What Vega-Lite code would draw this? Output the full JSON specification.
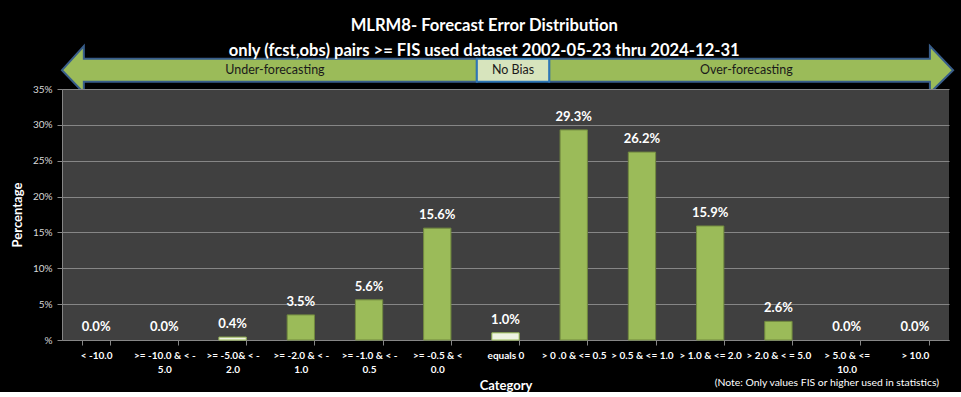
{
  "$schema": "https://vega.github.io/schema/vega-lite/v6.json",
  "background": "black",
  "padding": {"left": 11, "top": 18, "right": 10, "bottom": 0},
  "bounds": "flush",
  "title": {
    "text": ["MLRM8-  Forecast Error Distribution", "only (fcst,obs) pairs >= FIS used dataset 2002-05-23  thru 2024-12-31"],
    "color": "white", "font": "Lato", "fontSize": 16.6, "fontWeight": "bold",
    "lineHeight": 25, "anchor": "middle", "frame": "bounds", "offset": -18
  },
  "config": {"view": {"stroke": null}, "font": "Lato"},
  "spacing": 0,
  "datasets": {
    "arrows": [
      {"arrow": "left", "i": 1, "x": 0.0, "y": 4.85},
      {"arrow": "left", "i": 2, "x": 0.32, "y": 10},
      {"arrow": "left", "i": 3, "x": 0.32, "y": 7.3},
      {"arrow": "left", "i": 4, "x": 6.08, "y": 7.3},
      {"arrow": "left", "i": 5, "x": 6.08, "y": 2.4},
      {"arrow": "left", "i": 6, "x": 0.32, "y": 2.4},
      {"arrow": "left", "i": 7, "x": 0.32, "y": 0},
      {"arrow": "right", "i": 1, "x": 7.14, "y": 7.3},
      {"arrow": "right", "i": 2, "x": 12.72, "y": 7.3},
      {"arrow": "right", "i": 3, "x": 12.72, "y": 10},
      {"arrow": "right", "i": 4, "x": 13.06, "y": 4.85},
      {"arrow": "right", "i": 5, "x": 12.72, "y": 0},
      {"arrow": "right", "i": 6, "x": 12.72, "y": 2.4},
      {"arrow": "right", "i": 7, "x": 7.14, "y": 2.4}
    ],
    "bars": [
      {"category": "< -10.0", "pct": 0.0},
      {"category": ">= -10.0 & < -\n5.0", "pct": 0.0},
      {"category": ">= -5.0& < -\n2.0", "pct": 0.004},
      {"category": ">= -2.0 & < -\n1.0", "pct": 0.035},
      {"category": ">= -1.0 & < -\n0.5", "pct": 0.056},
      {"category": ">= -0.5 & <\n0.0", "pct": 0.156},
      {"category": "equals 0", "pct": 0.010},
      {"category": "> 0 .0 & <= 0.5", "pct": 0.293},
      {"category": "> 0.5 & <= 1.0", "pct": 0.262},
      {"category": "> 1.0 & <= 2.0", "pct": 0.159},
      {"category": "> 2.0 & < = 5.0", "pct": 0.026},
      {"category": "> 5.0 & <=\n10.0", "pct": 0.0},
      {"category": "> 10.0", "pct": 0.0}
    ]
  },
  "vconcat": [
    {
      "width": 887,
      "height": 43,
      "layer": [
        {
          "data": {"name": "arrows"},
          "mark": {"type": "line", "interpolate": "linear-closed", "fill": "#9BBB59", "stroke": "#385D8A", "strokeWidth": 2, "clip": false},
          "encoding": {
            "x": {"field": "x", "type": "quantitative", "scale": {"domain": [0, 13], "nice": false, "zero": false}, "axis": null},
            "y": {"field": "y", "type": "quantitative", "scale": {"domain": [0.85, 10], "nice": false, "zero": false}, "axis": null},
            "detail": {"field": "arrow"},
            "order": {"field": "i"}
          }
        },
        {
          "data": {"values": [{"x": 6.08, "x2": 7.14, "y": 2.4, "y2": 7.3}]},
          "mark": {"type": "rect", "fill": "#D7E4BD", "stroke": "#2E75B6", "strokeWidth": 2},
          "encoding": {
            "x": {"field": "x", "type": "quantitative"},
            "x2": {"field": "x2"},
            "y": {"field": "y", "type": "quantitative"},
            "y2": {"field": "y2"}
          }
        },
        {
          "data": {"values": [
            {"label": "Under-forecasting", "x": 3.12, "y": 4.85},
            {"label": "No  Bias", "x": 6.61, "y": 4.85},
            {"label": "Over-forecasting", "x": 10.03, "y": 4.85}
          ]},
          "mark": {"type": "text", "fontSize": 12.5, "color": "#1a1a1a", "baseline": "middle", "align": "center"},
          "encoding": {
            "x": {"field": "x", "type": "quantitative"},
            "y": {"field": "y", "type": "quantitative"},
            "text": {"field": "label"}
          }
        }
      ]
    },
    {
      "width": 887,
      "height": 251,
      "view": {"fill": "#404040", "stroke": null},
      "data": {"name": "bars"},
      "title": {"text": "(Note: Only values FIS or higher used in statistics)", "orient": "bottom", "anchor": "end", "fontSize": 10.4, "fontWeight": "normal", "color": "white", "offset": -14, "dx": -10},
      "encoding": {
        "x": {
          "field": "category", "type": "nominal", "sort": null,
          "scale": {"paddingInner": 0.6, "paddingOuter": 0.3},
          "axis": {
            "title": "Category", "titleColor": "white", "titleFontSize": 13, "titleFontWeight": "bold", "titlePadding": 5,
            "labelAngle": 0, "labelColor": "white", "labelFontSize": 10, "labelFontWeight": "bold",
            "labelExpr": "split(datum.label, '\\n')", "labelLineHeight": 14, "labelPadding": 5, "labelLimit": 0,
            "domainColor": "#868686", "tickColor": "#868686", "tickBand": "extent", "tickSize": 5
          }
        },
        "y": {
          "field": "pct", "type": "quantitative",
          "scale": {"domain": [0, 0.35], "nice": false},
          "axis": {
            "values": [0, 0.05, 0.1, 0.15, 0.2, 0.25, 0.3, 0.35],
            "labelExpr": "datum.value == 0 ? '%' : format(datum.value, '.0%')",
            "title": "Percentage", "titleColor": "white", "titleFontSize": 13, "titleFontWeight": "bold", "titlePadding": 8,
            "labelColor": "#d9d9d9", "labelFontSize": 10, "labelPadding": 5,
            "gridColor": "#868686", "domainColor": "#868686", "tickColor": "#868686", "tickSize": 5
          }
        }
      },
      "layer": [
        {
          "mark": {"type": "bar", "strokeWidth": 1},
          "encoding": {
            "fill": {"condition": {"test": "datum.pct < 0.02", "value": "#EEF3E2"}, "value": "#9BBB59"},
            "stroke": {"condition": {"test": "datum.pct < 0.02", "value": "#9BBB59"}, "value": "#71893F"},
            "opacity": {"condition": {"test": "datum.pct == 0", "value": 0}, "value": 1}
          }
        },
        {
          "mark": {"type": "text", "baseline": "bottom", "dy": -6, "color": "white", "fontSize": 13, "fontWeight": "bold"},
          "encoding": {
            "text": {"field": "pct", "type": "quantitative", "format": ".1%"}
          }
        }
      ]
    }
  ]
}
